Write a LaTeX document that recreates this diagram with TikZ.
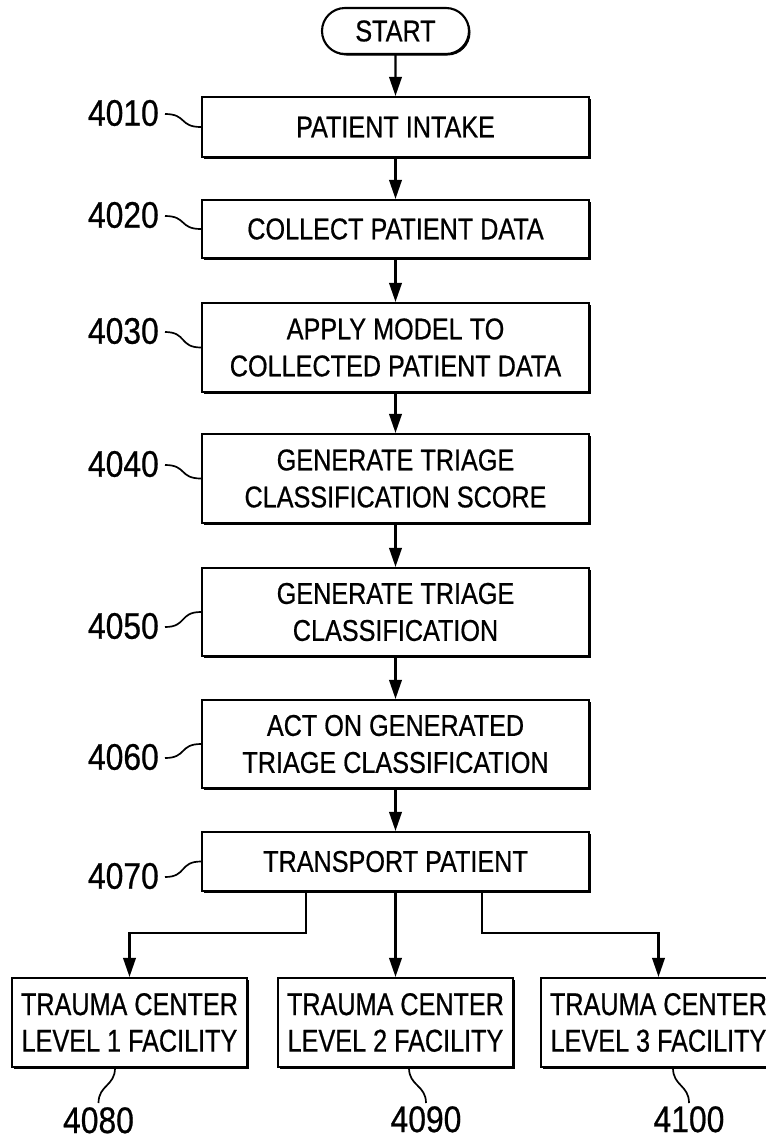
\documentclass[tikz,border=0pt]{standalone}
\usepackage{fontspec}
\setmainfont{Liberation Sans}
\newfontfamily\boxfont{Liberation Sans}[FakeStretch=0.84,FakeBold=0.6]
\newfontfamily\botfont{Liberation Sans}[FakeStretch=0.80,FakeBold=0.6]
\newfontfamily\lblfont{Liberation Sans}[FakeStretch=0.86,FakeBold=0.6]
\usetikzlibrary{arrows.meta,shadows,shapes.misc}
\tikzset{
  stepbox/.style={draw, line width=2.1pt, fill=white, inner sep=0pt, align=center,
    minimum width=387pt, font=\boxfont\fontsize{30}{37}\selectfont,
    general shadow={shadow xshift=1.8pt, shadow yshift=-1.8pt, fill=black}},
  facbox/.style={draw, line width=2.1pt, fill=white, inner sep=0pt, align=center,
    minimum width=235pt, minimum height=89pt, font=\botfont\fontsize{31.5}{36.5}\selectfont,
    general shadow={shadow xshift=1.8pt, shadow yshift=-1.8pt, fill=black}},
  term/.style={draw, rounded rectangle, line width=2.1pt, fill=white, inner sep=0pt,
    minimum width=147pt, minimum height=46pt, font=\boxfont\fontsize{30}{37}\selectfont,
    general shadow={shadow xshift=1.5pt, shadow yshift=-1.5pt, fill=black}},
  lbl/.style={inner sep=0pt, font=\lblfont\fontsize{37}{42}\selectfont},
  arr/.style={line width=2.1pt, -{Triangle[length=19pt,width=12.5pt]}},
  tl/.style={line width=1.7pt},
}
\begin{document}
\begin{tikzpicture}[x=1pt,y=-1pt]
\fill[white] (0,0) rectangle (766,1141);
\useasboundingbox (0,0) rectangle (766,1141);

\node[term] (start) at (395.5,31) {START};
\node[stepbox, minimum height=60pt] (b1) at (395.5,127) {PATIENT INTAKE};
\node[stepbox, minimum height=58pt] (b2) at (395.5,229) {COLLECT PATIENT DATA};
\node[stepbox, minimum height=89pt] (b3) at (395.5,347.5) {APPLY MODEL TO\\COLLECTED PATIENT DATA};
\node[stepbox, minimum height=89pt] (b4) at (395.5,478.5) {GENERATE TRIAGE\\CLASSIFICATION SCORE};
\node[stepbox, minimum height=88pt] (b5) at (395.5,612) {GENERATE TRIAGE\\CLASSIFICATION};
\node[stepbox, minimum height=88pt] (b6) at (395.5,744) {ACT ON GENERATED\\TRIAGE CLASSIFICATION};
\node[stepbox, minimum height=59pt] (b7) at (395.5,861.5) {TRANSPORT PATIENT};

\node[facbox] (c1) at (129.5,1022.5) {TRAUMA CENTER\\LEVEL 1 FACILITY};
\node[facbox] (c2) at (395.5,1022.5) {TRAUMA CENTER\\LEVEL 2 FACILITY};
\node[facbox] (c3) at (658.5,1022.5) {TRAUMA CENTER\\LEVEL 3 FACILITY};

\draw[arr] (start) -- (b1);
\draw[arr] (b1) -- (b2);
\draw[arr] (b2) -- (b3);
\draw[arr] (b3) -- (b4);
\draw[arr] (b4) -- (b5);
\draw[arr] (b5) -- (b6);
\draw[arr] (b6) -- (b7);
\draw[arr] ([xshift=-89.5pt]b7.south) |- ([yshift=44pt]c1.north) -- (c1.north);
\draw[arr] (b7) -- (c2);
\draw[arr] ([xshift=86.5pt]b7.south) |- ([yshift=44pt]c3.north) -- (c3.north);

\node[lbl, anchor=east] (l1) at (159,113) {4010};
\node[lbl, anchor=east] (l2) at (159,215) {4020};
\node[lbl, anchor=east] (l3) at (159,331) {4030};
\node[lbl, anchor=east] (l4) at (159,464) {4040};
\node[lbl, anchor=east] (l5) at (159,626) {4050};
\node[lbl, anchor=east] (l6) at (159,757) {4060};
\node[lbl, anchor=east] (l7) at (159,876) {4070};
\foreach \l/\b in {l1/b1,l2/b2,l3/b3,l4/b4,l5/b5,l6/b6,l7/b7}{
  \draw[tl] ([xshift=6pt,yshift=-1pt]\l.east) .. controls +(22,0) and +(-22,0) .. (\b.west);
}

\node[lbl, anchor=north] (l8) at (98.5,1107) {4080};
\node[lbl, anchor=north] (l9) at (426,1106) {4090};
\node[lbl, anchor=north] (l10) at (689,1106) {4100};
\draw[tl] ([xshift=-14.5pt]c1.south) .. controls +(0,18) and +(0,-18) .. ([yshift=4pt]l8.north);
\draw[tl] ([xshift=13.5pt]c2.south) .. controls +(0,18) and +(0,-18) .. ([yshift=3pt]l9.north);
\draw[tl] ([xshift=14.5pt]c3.south) .. controls +(0,18) and +(0,-18) .. ([yshift=3pt]l10.north);
\end{tikzpicture}
\end{document}
